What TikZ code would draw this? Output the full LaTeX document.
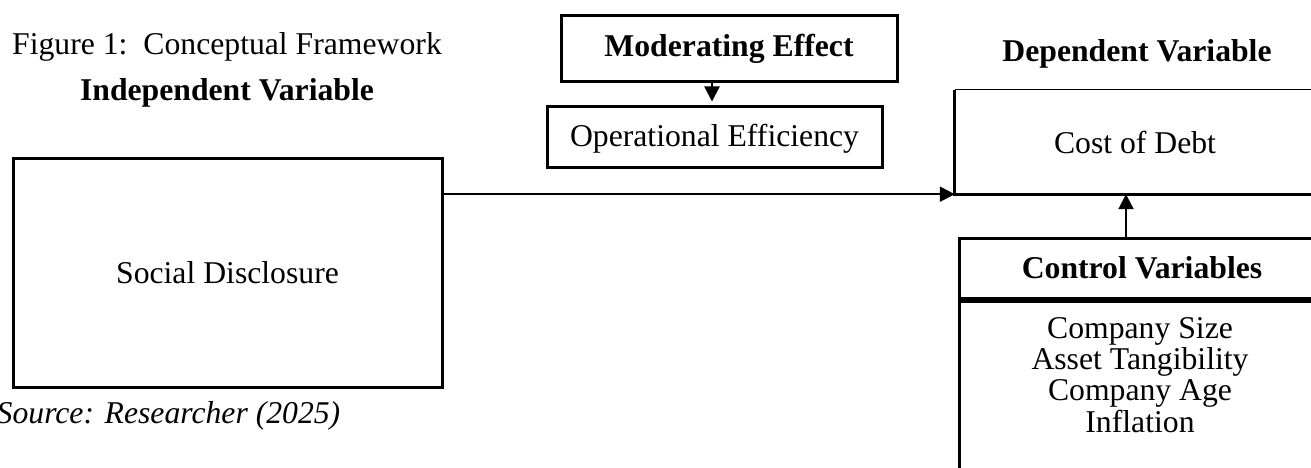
\documentclass[tikz,border=0pt]{standalone}
\usepackage{fontspec}
\setmainfont{Liberation Serif}
\usetikzlibrary{arrows.meta,calc}

\tikzset{
  txt/.style={font=\fontsize{31.7}{31}\selectfont, inner sep=0pt},
  boxed/.style={txt, draw, line width=3pt, inner sep=0pt},
  plain/.style={txt, inner sep=0pt},
  conn/.style={line width=2pt, -{Triangle[length=15pt,width=15pt]}},
  thickline/.style={line width=3pt},
  thinline/.style={line width=1.2pt}
}

\begin{document}
\begin{tikzpicture}[x=1pt,y=-1pt]
\useasboundingbox (0,0) rectangle (1311,468);
\clip (0,0) rectangle (1311,468);

% headings and captions
\node[txt, anchor=base west] (title) at (12,55) {Figure 1:\ \ Conceptual Framework};
\node[txt, anchor=base, font=\fontsize{31.7}{31}\selectfont\bfseries] (indep) at (227,101) {Independent Variable};
\node[txt, anchor=base, font=\fontsize{31.7}{31}\selectfont\bfseries] (dep) at (1137,62) {Dependent Variable};
\node[txt, anchor=base, font=\fontsize{31.7}{31}\selectfont\itshape] (src) at (168.5,423) {Source: Researcher (2025)};

% independent variable
\node[boxed, minimum width=429pt, minimum height=229pt] (sd) at (227.5,272.5) {Social Disclosure};

% moderator
\node[boxed, minimum width=336pt, minimum height=66pt, font=\fontsize{31.7}{31}\selectfont\bfseries] (mod) at (729,49) {Moderating Effect};
\node[boxed, minimum width=335pt, minimum height=60pt, text depth=4pt] (op) at (714.5,137) {Operational Efficiency};

% dependent variable (box runs past the right margin)
\node[plain, minimum width=360pt, minimum height=104pt] (cod) at (1135,142) {Cost of Debt};
\draw[thinline] (cod.north west) -- (cod.north east);
\draw[thickline] (cod.north west) -- (cod.south west) -- (cod.south east);

% control variables: header cell and list cell (list runs past the bottom margin)
\node[boxed, minimum width=366pt, minimum height=60pt, font=\fontsize{31.7}{31}\selectfont\bfseries] (ctrl) at (1142,268) {Control Variables};
\node[boxed, anchor=north, minimum width=366pt, minimum height=200pt] (list) at (ctrl.south) {};
\node[txt, anchor=base, align=center, font=\fontsize{31.7}{31.3}\selectfont] (items) at (1140,432)
  {Company Size\\Asset Tangibility\\Company Age\\Inflation};

% connectors
\coordinate (cx) at (1126,0);
\coordinate (mx) at (712,0);
\draw[conn] (sd.east |- cod.south west) -- (cod.south west);
\draw[conn, shorten >=4pt] (mod.south -| mx) -- (op.north -| mx);
\draw[conn] (ctrl.north -| cx) -- (cod.south -| cx);
\end{tikzpicture}
\end{document}
